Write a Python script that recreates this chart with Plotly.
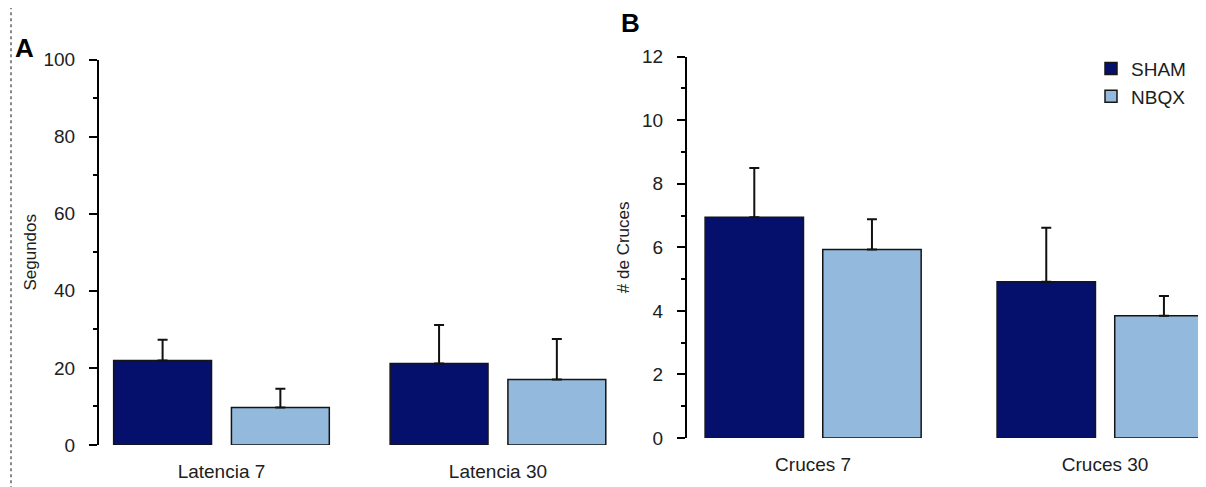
import plotly.graph_objects as go

# ---- data ----
cats_a = ["Latencia 7", "Latencia 30"]
sham_a = [21.9, 21.1]
sham_a_err = [5.4, 10.0]
nbqx_a = [9.7, 17.0]
nbqx_a_err = [4.9, 10.5]

cats_b = ["Cruces 7", "Cruces 30"]
sham_b = [6.95, 4.92]
sham_b_err = [1.55, 1.7]
nbqx_b = [5.93, 3.85]
nbqx_b_err = [0.95, 0.62]

series_names = ["SHAM", "NBQX"]
yticks_a = [0, 20, 40, 60, 80, 100]
yticks_b = [0, 2, 4, 6, 8, 10, 12]

# ---- styles ----
C_SHAM = "#04106c"
C_NBQX = "#93badd"
FONT = "Liberation Sans, Arial, sans-serif"
TXT = "#202020"
W, H = 1206, 487

# empirical mapping from target screen pixels to paper fractions
OX, OY, HH = 7.0, 16.0, 469.4

def px_x(p):
    return (p - OX) / W

def px_y(p):
    return 1 - (p - OY) / HH

fig = go.Figure()

def add_bars(cats, vals, errs, name, color, xa, ya, offset, width, legend):
    fig.add_trace(go.Bar(
        x=cats, y=vals, name=name, xaxis=xa, yaxis=ya,
        offset=offset, width=width,
        marker=dict(color=color, line=dict(color="#151515", width=1.5)),
        error_y=dict(type="data", array=errs, arrayminus=[0] * len(errs),
                     symmetric=False, color="#111111", thickness=2, width=5),
        showlegend=legend, legendgroup=name,
    ))

add_bars(cats_a, sham_a, sham_a_err, series_names[0], C_SHAM, "x", "y", -0.39, 0.354, False)
add_bars(cats_a, nbqx_a, nbqx_a_err, series_names[1], C_NBQX, "x", "y", 0.036, 0.354, False)
add_bars(cats_b, sham_b, sham_b_err, series_names[0], C_SHAM, "x2", "y2", -0.37, 0.337, True)
add_bars(cats_b, nbqx_b, nbqx_b_err, series_names[1], C_NBQX, "x2", "y2", 0.033, 0.337, True)

tickfont = dict(family=FONT, size=19, color=TXT)
titlefont = dict(family=FONT, size=17, color=TXT)
yax_common = dict(
    showline=True, linecolor="#000000", linewidth=2,
    ticks="outside", ticklen=8, tickwidth=2, tickcolor="#000000",
    showgrid=False, zeroline=False, tickfont=tickfont,
    ticklabelstandoff=10,
    minor=dict(ticks="outside", ticklen=4, tickwidth=2, tickcolor="#000000", showgrid=False),
)
xax_common = dict(
    type="category", showline=False, ticks="", showgrid=False, zeroline=False,
    tickfont=tickfont, ticklabelstandoff=13,
)

fig.update_layout(
    width=W, height=H,
    margin=dict(l=0, r=0, t=0, b=0),
    paper_bgcolor="white", plot_bgcolor="rgba(0,0,0,0)",
    barmode="overlay",
    font=dict(family=FONT, size=17, color=TXT),
    xaxis=dict(domain=[px_x(98), px_x(607)], range=[-0.443, 1.398], anchor="y", **xax_common),
    yaxis=dict(domain=[px_y(446), px_y(58)], range=[0, 100], anchor="x",
               tickvals=yticks_a, title=dict(text="Segundos", standoff=3, font=titlefont),
               **{**yax_common, "minor": dict(yax_common["minor"], dtick=10, tick0=0)}),
    xaxis2=dict(domain=[px_x(686), 1.0], range=[-0.432, 1.373], anchor="y2", **xax_common),
    yaxis2=dict(domain=[px_y(439), px_y(55)], range=[0, 12], anchor="x2",
                tickvals=yticks_b, title=dict(text="# de Cruces", standoff=8, font=titlefont),
                **{**yax_common, "minor": dict(yax_common["minor"], dtick=1, tick0=0)}),
    legend=dict(x=px_x(1090), y=px_y(48), xanchor="left", yanchor="top",
                font=dict(family=FONT, size=19, color=TXT),
                bgcolor="rgba(0,0,0,0)", tracegroupgap=7, traceorder="normal"),
    annotations=[
        dict(text="<b>A</b>", x=px_x(12), y=px_y(29), xref="paper", yref="paper",
             xanchor="left", yanchor="top", showarrow=False,
             font=dict(family=FONT, size=26, color="#000000")),
        dict(text="<b>B</b>", x=px_x(618), y=px_y(4), xref="paper", yref="paper",
             xanchor="left", yanchor="top", showarrow=False,
             font=dict(family=FONT, size=26, color="#000000")),
    ],
    shapes=[
        dict(type="line", xref="paper", yref="paper", x0=px_x(10), x1=px_x(10),
             y0=-0.05, y1=1.05,
             line=dict(color="#8a8a8a", width=2, dash="dot")),
    ],
)

fig.write_html("out.html")
